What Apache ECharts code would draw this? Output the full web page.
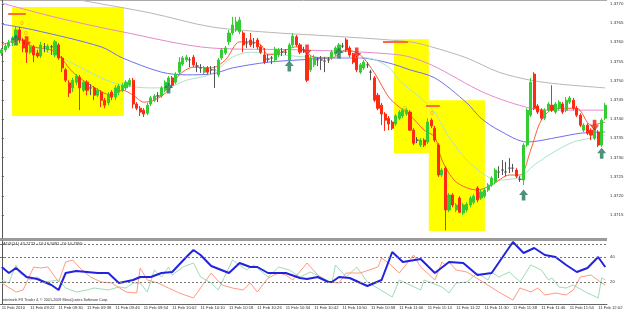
<!DOCTYPE html>
<html lang="en">
<head>
<meta charset="UTF-8">
<title>EURUSD,M1</title>
<script src="https://cdn.jsdelivr.net/npm/echarts@6/dist/echarts.min.js"></script>
<style>
  html, body { margin: 0; padding: 0; background: #fff; }
  #chart { width: 625px; height: 312px; }
</style>
</head>
<body>
<div id="chart"></div>
<script>
// 1-minute bars, 11 Feb 2010 09:14 .. 12:04
var opens = [1.37572,1.37580,1.37590,1.37598,1.37611,1.37632,1.37606,1.37590,1.37574,1.37588,
  1.37572,1.37564,1.37588,1.37580,1.37588,1.37567,1.37593,1.37559,1.37528,1.37494,
  1.37481,1.37496,1.37509,1.37475,1.37496,1.37481,1.37481,1.37462,1.37470,1.37449,
  1.37442,1.37470,1.37457,1.37470,1.37475,1.37481,1.37488,1.37501,1.37439,1.37428,
  1.37423,1.37415,1.37439,1.37449,1.37460,1.37460,1.37475,1.37491,1.37507,1.37496,
  1.37522,1.37543,1.37554,1.37554,1.37561,1.37538,1.37533,1.37522,1.37533,1.37528,
  1.37528,1.37515,1.37559,1.37572,1.37601,1.37624,1.37632,1.37627,1.37624,1.37598,
  1.37606,1.37598,1.37606,1.37588,1.37567,1.37556,1.37559,1.37554,1.37567,1.37574,
  1.37574,1.37554,1.37593,1.37614,1.37593,1.37580,1.37567,1.37528,1.37541,1.37554,
  1.37554,1.37551,1.37554,1.37559,1.37569,1.37580,1.37590,1.37606,1.37585,1.37567,
  1.37559,1.37522,1.37533,1.37541,1.37522,1.37507,1.37462,1.37436,1.37413,1.37402,
  1.37392,1.37387,1.37402,1.37408,1.37413,1.37418,1.37371,1.37345,1.37332,1.37345,
  1.37340,1.37397,1.37376,1.37332,1.37254,1.37272,1.37163,1.37202,1.37163,1.37194,
  1.37155,1.37163,1.37176,1.37183,1.37220,1.37194,1.37199,1.37215,1.37228,1.37236,
  1.37262,1.37267,1.37262,1.37272,1.37272,1.37267,1.37243,1.37241,1.37332,1.37410,
  1.37517,1.37434,1.37423,1.37402,1.37423,1.37436,1.37418,1.37428,1.37439,1.37423,
  1.37444,1.37449,1.37428,1.37410,1.37371,1.37384,1.37371,1.37350,1.37366,1.37332,
  1.37402];
var closes = [1.37580,1.37590,1.37598,1.37611,1.37632,1.37606,1.37585,1.37574,1.37588,1.37567,
  1.37564,1.37593,1.37588,1.37590,1.37588,1.37601,1.37559,1.37533,1.37501,1.37468,
  1.37501,1.37512,1.37481,1.37496,1.37475,1.37481,1.37462,1.37475,1.37449,1.37436,
  1.37465,1.37457,1.37481,1.37486,1.37488,1.37496,1.37501,1.37439,1.37428,1.37418,
  1.37413,1.37436,1.37455,1.37460,1.37460,1.37481,1.37496,1.37507,1.37488,1.37517,
  1.37548,1.37559,1.37561,1.37554,1.37541,1.37538,1.37533,1.37533,1.37522,1.37528,
  1.37528,1.37554,1.37580,1.37585,1.37624,1.37645,1.37653,1.37658,1.37593,1.37598,
  1.37593,1.37598,1.37588,1.37574,1.37548,1.37556,1.37559,1.37582,1.37580,1.37574,
  1.37574,1.37593,1.37616,1.37593,1.37574,1.37580,1.37501,1.37559,1.37561,1.37554,
  1.37554,1.37551,1.37554,1.37574,1.37585,1.37593,1.37590,1.37580,1.37567,1.37548,
  1.37528,1.37541,1.37548,1.37541,1.37522,1.37449,1.37428,1.37413,1.37397,1.37387,
  1.37376,1.37408,1.37418,1.37423,1.37423,1.37371,1.37337,1.37345,1.37345,1.37332,
  1.37392,1.37382,1.37345,1.37254,1.37267,1.37163,1.37202,1.37176,1.37176,1.37157,
  1.37176,1.37178,1.37194,1.37199,1.37189,1.37210,1.37215,1.37228,1.37246,1.37267,
  1.37262,1.37267,1.37262,1.37272,1.37272,1.37251,1.37243,1.37332,1.37423,1.37496,
  1.37428,1.37418,1.37402,1.37423,1.37439,1.37423,1.37439,1.37444,1.37418,1.37449,
  1.37455,1.37428,1.37410,1.37384,1.37384,1.37363,1.37358,1.37376,1.37332,1.37397,
  1.37436];
var lows = [1.37564,1.37574,1.37585,1.37590,1.37601,1.37598,1.37574,1.37546,1.37569,1.37548,
  1.37559,1.37559,1.37574,1.37574,1.37567,1.37561,1.37554,1.37522,1.37496,1.37457,
  1.37470,1.37488,1.37423,1.37470,1.37462,1.37462,1.37449,1.37457,1.37431,1.37428,
  1.37436,1.37449,1.37449,1.37462,1.37470,1.37475,1.37483,1.37428,1.37423,1.37408,
  1.37405,1.37410,1.37434,1.37444,1.37444,1.37455,1.37470,1.37486,1.37481,1.37491,
  1.37517,1.37538,1.37548,1.37535,1.37535,1.37522,1.37520,1.37517,1.37517,1.37517,
  1.37481,1.37509,1.37554,1.37567,1.37593,1.37619,1.37627,1.37621,1.37574,1.37585,
  1.37588,1.37585,1.37582,1.37569,1.37543,1.37548,1.37543,1.37548,1.37561,1.37564,
  1.37567,1.37548,1.37588,1.37588,1.37569,1.37572,1.37496,1.37522,1.37535,1.37538,
  1.37528,1.37522,1.37546,1.37554,1.37564,1.37574,1.37585,1.37574,1.37561,1.37543,
  1.37522,1.37517,1.37528,1.37533,1.37501,1.37444,1.37423,1.37384,1.37369,1.37371,
  1.37371,1.37382,1.37397,1.37402,1.37408,1.37369,1.37332,1.37337,1.37327,1.37327,
  1.37335,1.37376,1.37340,1.37249,1.37249,1.37110,1.37157,1.37170,1.37157,1.37155,
  1.37150,1.37157,1.37170,1.37178,1.37183,1.37189,1.37194,1.37210,1.37223,1.37230,
  1.37246,1.37254,1.37251,1.37259,1.37262,1.37246,1.37236,1.37228,1.37327,1.37405,
  1.37423,1.37413,1.37397,1.37397,1.37418,1.37418,1.37413,1.37423,1.37413,1.37418,
  1.37439,1.37423,1.37405,1.37379,1.37366,1.37358,1.37345,1.37345,1.37327,1.37327,
  1.37397];
var highs = [1.37585,1.37595,1.37606,1.37616,1.37640,1.37640,1.37611,1.37595,1.37593,1.37593,
  1.37580,1.37601,1.37598,1.37595,1.37593,1.37606,1.37598,1.37564,1.37533,1.37501,
  1.37507,1.37517,1.37515,1.37501,1.37501,1.37491,1.37486,1.37481,1.37475,1.37455,
  1.37470,1.37475,1.37488,1.37491,1.37494,1.37501,1.37507,1.37507,1.37444,1.37434,
  1.37428,1.37442,1.37460,1.37465,1.37470,1.37486,1.37501,1.37512,1.37512,1.37522,
  1.37561,1.37564,1.37567,1.37561,1.37567,1.37548,1.37543,1.37538,1.37538,1.37538,
  1.37538,1.37559,1.37585,1.37590,1.37632,1.37666,1.37666,1.37666,1.37629,1.37611,
  1.37624,1.37611,1.37611,1.37593,1.37585,1.37569,1.37564,1.37588,1.37585,1.37585,
  1.37582,1.37598,1.37624,1.37619,1.37598,1.37588,1.37572,1.37564,1.37567,1.37561,
  1.37564,1.37561,1.37561,1.37580,1.37590,1.37598,1.37598,1.37611,1.37590,1.37572,
  1.37564,1.37546,1.37554,1.37548,1.37528,1.37512,1.37468,1.37442,1.37418,1.37408,
  1.37397,1.37413,1.37423,1.37428,1.37428,1.37423,1.37376,1.37353,1.37350,1.37350,
  1.37402,1.37402,1.37382,1.37337,1.37272,1.37277,1.37207,1.37207,1.37181,1.37199,
  1.37181,1.37183,1.37199,1.37204,1.37225,1.37215,1.37220,1.37233,1.37251,1.37272,
  1.37277,1.37293,1.37288,1.37298,1.37283,1.37272,1.37251,1.37337,1.37428,1.37507,
  1.37522,1.37439,1.37428,1.37428,1.37444,1.37488,1.37444,1.37449,1.37444,1.37457,
  1.37460,1.37455,1.37434,1.37415,1.37389,1.37389,1.37376,1.37382,1.37371,1.37402,
  1.37442];

var tickLabels = ['11 Feb 2010','11 Feb 09:22','11 Feb 09:30','11 Feb 09:38','11 Feb 09:46',
  '11 Feb 09:54','11 Feb 10:02','11 Feb 10:10','11 Feb 10:18','11 Feb 10:26','11 Feb 10:34',
  '11 Feb 10:42','11 Feb 10:50','11 Feb 10:58','11 Feb 11:06','11 Feb 11:14','11 Feb 11:22',
  '11 Feb 11:30','11 Feb 11:38','11 Feb 11:46','11 Feb 11:54','11 Feb 12:02'];
var priceTicks = [1.3715,1.3720,1.3725,1.3730,1.3735,1.3740,1.3745,1.3750,1.3755,1.3760,1.3765,1.3770];
var adxTicks = [20, 40];
var adxLevels = [20, 40, 50];

// moving averages at a few bars: [bar, price]
var maGrey = [[0,1.37749],[22,1.37710],[42,1.37676],[59,1.37640],[78,1.37624],[93,1.37616],[115,1.37601],
  [121,1.37588],[131,1.37559],[140,1.37522],[149,1.37501],[157,1.37491],[170,1.37481]];
var maPink = [[0,1.37702],[16,1.37663],[34,1.37627],[59,1.37585],[84,1.37580],[112,1.37567],[121,1.37541],
  [136,1.37468],[149,1.37428],[157,1.37423],[170,1.37423]];
var maBlue = [[0,1.37647],[9,1.37632],[28,1.37588],[34,1.37559],[45,1.37522],[52,1.37515],[59,1.37517],
  [65,1.37533],[75,1.37548],[84,1.37554],[93,1.37559],[101,1.37559],[109,1.37546],[115,1.37528],
  [122,1.37507],[131,1.37442],[135,1.37402],[140,1.37371],[148,1.37340],[157,1.37353],[163,1.37363],[170,1.37366]];
var maMint = [[0,1.37580],[5,1.37598],[9,1.37588],[18,1.37554],[28,1.37507],[34,1.37488],[42,1.37481],
  [47,1.37483],[52,1.37501],[59,1.37517],[65,1.37561],[70,1.37574],[79,1.37567],[87,1.37561],[93,1.37561],
  [103,1.37559],[109,1.37535],[112,1.37501],[121,1.37428],[126,1.37353],[131,1.37293],[137,1.37249],
  [140,1.37241],[146,1.37249],[150,1.37280],[155,1.37311],[161,1.37340],[166,1.37350],[170,1.37358]];
var maRed = [[0,1.37593],[5,1.37606],[9,1.37588],[14,1.37580],[16,1.37567],[20,1.37522],[25,1.37488],
  [31,1.37462],[34,1.37475],[37,1.37462],[40,1.37444],[43,1.37449],[47,1.37475],[50,1.37515],[54,1.37535],
  [59,1.37533],[63,1.37554],[67,1.37601],[70,1.37601],[73,1.37593],[75,1.37567],[78,1.37572],[83,1.37588],
  [85,1.37580],[88,1.37561],[93,1.37559],[97,1.37580],[101,1.37567],[105,1.37520],[109,1.37457],
  [112,1.37431],[115,1.37410],[119,1.37371],[122,1.37353],[124,1.37293],[128,1.37236],[134,1.37215],
  [138,1.37228],[143,1.37254],[146,1.37254],[149,1.37319],[152,1.37397],[156,1.37428],[162,1.37428],
  [166,1.37384],[170,1.37392]];

// ADX(14): [bar, value]
var adxMain = [[0,32.0],[2,27.2],[4,31.2],[7,24.0],[10,22.4],[14,17.6],[16,13.6],[18,27.2],[21,28.8],
  [24,28.0],[27,27.2],[30,27.2],[33,19.2],[37,21.6],[39,24.0],[42,24.0],[45,27.2],[48,28.0],[52,40.0],
  [54,45.6],[56,41.6],[59,32.8],[64,27.2],[67,35.2],[70,32.0],[72,32.0],[75,27.2],[80,27.2],[84,23.2],
  [86,22.4],[89,24.0],[92,20.0],[93,20.0],[95,24.0],[98,23.2],[103,16.8],[107,21.6],[110,44.0],[113,36.0],
  [118,38.4],[122,27.2],[126,36.0],[130,35.2],[134,25.6],[138,27.2],[144,52.0],[147,43.2],[150,47.2],
  [153,41.6],[156,40.0],[159,33.6],[162,28.0],[165,31.2],[168,40.0],[170,32.0]];
var plusDI = [[0,21.6],[2,19.2],[4,33.6],[5,27.2],[8,21.6],[10,24.0],[12,20.0],[16,21.6],[18,15.2],
  [21,12.0],[24,13.6],[26,15.2],[30,13.6],[33,16.0],[35,15.2],[37,19.2],[39,19.2],[41,12.0],[43,29.6],
  [45,24.0],[47,32.0],[48,25.6],[51,32.0],[54,35.2],[56,24.0],[59,19.2],[61,13.6],[65,37.6],[69,29.6],
  [71,33.6],[75,24.0],[78,32.0],[81,29.6],[84,24.0],[87,28.0],[91,22.4],[93,19.2],[94,33.6],[97,24.0],
  [100,32.0],[103,20.0],[110,8.0],[112,21.6],[115,17.6],[118,13.6],[119,21.6],[124,16.0],[126,11.2],
  [128,19.2],[131,20.0],[134,27.2],[137,21.6],[138,28.0],[140,24.0],[143,28.0],[146,20.0],[149,33.6],
  [152,29.6],[154,21.6],[155,23.2],[157,16.0],[159,15.2],[161,17.6],[165,11.2],[168,7.2],[169,23.2],[170,21.6]];
var minusDI = [[0,19.2],[4,12.0],[6,13.6],[9,32.0],[11,31.2],[13,32.0],[16,20.0],[18,36.0],[20,37.6],
  [22,31.2],[25,24.0],[28,20.0],[31,19.2],[35,12.0],[38,11.2],[39,31.2],[41,21.6],[44,19.2],[47,15.2],
  [50,11.2],[54,7.2],[56,15.2],[59,27.2],[62,17.6],[65,15.2],[68,13.6],[70,19.2],[72,12.0],[75,23.2],
  [78,27.2],[80,25.6],[82,21.6],[86,35.2],[89,25.6],[92,20.0],[95,19.2],[97,27.2],[101,27.2],[106,32.0],
  [107,39.2],[109,35.2],[112,27.2],[116,41.6],[118,32.0],[122,21.6],[124,36.0],[125,33.6],[126,36.0],
  [128,29.6],[131,28.0],[136,19.2],[140,12.0],[144,5.6],[146,15.2],[149,12.0],[151,15.2],[153,9.6],
  [156,11.2],[159,9.6],[161,13.6],[163,24.0],[166,25.6],[169,19.2],[170,17.6]];

// drawn objects: [barFrom, barTo, priceTop, priceBottom]
var zones = [[2.9,34.4,1.37692,1.37408],[110.5,120.3,1.37608,1.37311],[120.3,136.1,1.37449,1.37108]];
// [barFrom, barTo, price]
var levels = [[1.8,6.8,1.37674],[107.4,114.4,1.37601],[119.5,123.4,1.37434]];
var fiboZero = [[5.7,1.37650],[6.8,1.37624],[113.6,1.37428],[121.2,1.37415]];
var buyArrows = [[4,1.37606],[47,1.37481],[81,1.37538],[95,1.37572],[147,1.37202],[169,1.37311]];
var sellArrows = [[7,1.37601],[86,1.37580],[100,1.37572],[167,1.37384]];

var times = [];
for (var i = 0; i < opens.length; i++) {
  var m = 9 * 60 + 14 + i;
  times.push(('0' + Math.floor(m / 60)).slice(-2) + ':' + ('0' + (m % 60)).slice(-2));
}
var candles = opens.map(function (o, i) { return [o, closes[i], lows[i], highs[i]]; });

var font = '"Liberation Sans Narrow", "Liberation Sans", sans-serif';
var upPath = 'path://M5,0L10,6L7,6L7,12L3,12L3,6L0,6Z';
var downPath = 'path://M3,0L7,0L7,6L10,6L5,12L0,6L3,6Z';

function maLine(name, data, color) {
  return {
    name: name, type: 'line', xAxisIndex: 1, yAxisIndex: 0, data: data,
    symbol: 'none', smooth: 0.3, z: 3, silent: true,
    lineStyle: {color: color, width: 1}
  };
}
function adxLine(name, data, color, width) {
  return {
    name: name, type: 'line', xAxisIndex: 3, yAxisIndex: 1, data: data,
    symbol: 'none', z: 3, silent: true,
    lineStyle: {color: color, width: width}
  };
}

var chart = echarts.init(document.getElementById('chart'));
var option = {
  animation: false,
  backgroundColor: '#ffffff',
  grid: [
    {left: 0, right: 18, top: 0, height: 238, outerBoundsMode: 'none'},
    {left: 0, right: 18, top: 241, height: 63, outerBoundsMode: 'none'}
  ],
  xAxis: [
    {type: 'category', gridIndex: 0, data: times, show: false},
    {type: 'value', gridIndex: 0, min: -0.5, max: times.length - 0.5, show: false},
    {
      type: 'category', gridIndex: 1, data: times,
      axisLine: {lineStyle: {color: '#666', width: 1}},
      axisTick: {
        alignWithLabel: true, length: 3, lineStyle: {color: '#444'},
        interval: function (idx) { return idx % 8 === 0; }
      },
      axisLabel: {
        align: 'left', fontSize: 4.2, color: '#333', margin: 2, fontFamily: font, hideOverlap: false,
        interval: function (idx) { return idx % 8 === 0; },
        formatter: function (v, idx) { return tickLabels[idx / 8] || ''; }
      }
    },
    {type: 'value', gridIndex: 1, min: -0.5, max: times.length - 0.5, show: false}
  ],
  yAxis: [
    {
      type: 'value', gridIndex: 0, position: 'right', min: 1.37090, max: 1.37710,
      splitLine: {show: false},
      axisLine: {show: true, lineStyle: {color: '#555'}},
      axisTick: {show: true, customValues: priceTicks, length: 2, lineStyle: {color: '#555'}},
      axisLabel: {
        customValues: priceTicks, fontSize: 4.4, color: '#333', margin: 3, fontFamily: font,
        formatter: function (v) { return v.toFixed(4); }
      }
    },
    {
      type: 'value', gridIndex: 1, position: 'right', min: 2.4, max: 52.8,
      splitLine: {show: false},
      axisLine: {show: true, lineStyle: {color: '#555'}},
      axisTick: {show: true, customValues: adxTicks, length: 2, lineStyle: {color: '#555'}},
      axisLabel: {customValues: adxTicks, fontSize: 4.4, color: '#333', margin: 3, fontFamily: font}
    }
  ],
  series: [
    {
      name: 'objects', type: 'line', xAxisIndex: 1, yAxisIndex: 0, data: [], z: 1, silent: true,
      markArea: {
        silent: true,
        itemStyle: {color: '#ffff00', opacity: 1},
        data: zones.map(function (b) { return [{coord: [b[0], b[2]]}, {coord: [b[1], b[3]]}]; })
      },
      markLine: {
        silent: true, symbol: 'none', label: {show: false},
        lineStyle: {color: '#ff6a3a', width: 2, type: 'solid'},
        data: levels.map(function (l) { return [{coord: [l[0], l[2]]}, {coord: [l[1], l[2]]}]; })
      }
    },
    maLine('MA grey', maGrey, '#bdb5ae'),
    maLine('MA pink', maPink, '#e58acb'),
    maLine('MA blue', maBlue, '#6f6ff0'),
    maLine('MA mint', maMint, '#aee3c6'),
    {
      name: 'EURUSD', type: 'candlestick', xAxisIndex: 0, yAxisIndex: 0, data: candles,
      barWidth: 2.6, z: 4, silent: true,
      itemStyle: {
        color: '#33cc33', color0: '#ff2a10',
        borderColor: '#33cc33', borderColor0: '#ff2a10', borderColorDoji: '#555555', borderWidth: 1
      }
    },
    maLine('MA red', maRed, '#ff5a3c'),
    {
      name: 'zero', type: 'scatter', xAxisIndex: 1, yAxisIndex: 0, data: fiboZero,
      symbolSize: 0, z: 5, silent: true,
      label: {show: true, formatter: '0', color: '#ff7a30', fontSize: 6, fontFamily: font, position: 'inside'}
    },
    {
      name: 'buy', type: 'scatter', xAxisIndex: 0, yAxisIndex: 0, data: buyArrows,
      symbol: upPath, symbolSize: [9, 11], z: 6, silent: true,
      itemStyle: {color: '#22775a'}
    },
    {
      name: 'sell', type: 'scatter', xAxisIndex: 0, yAxisIndex: 0, data: sellArrows,
      symbol: downPath, symbolSize: [9, 11], z: 6, silent: true,
      itemStyle: {color: '#ee1a10'}
    },
    adxLine('+DI', plusDI, '#9fdcb6', 1),
    adxLine('-DI', minusDI, '#ff9a80', 1),
    Object.assign(adxLine('ADX', adxMain, '#2222e0', 2), {
      markLine: {
        silent: true, symbol: 'none', label: {show: false},
        lineStyle: {color: '#777', width: 1, type: [2, 2]},
        data: adxLevels.map(function (v) { return {yAxis: v}; })
      }
    })
  ],
  graphic: [
    {type: 'rect', left: 0, top: 238, shape: {width: 607, height: 3}, style: {fill: '#9a9a9a'}, silent: true},
    {type: 'line', shape: {x1: 0, y1: 0.5, x2: 607, y2: 0.5}, style: {stroke: '#aaaaaa', lineWidth: 1}, silent: true},
    {
      type: 'text', left: 3, top: 242, silent: true,
      style: {text: 'ADX(14) 43.2723 +DI:16.9491 -DI:10.7855', fill: '#333', font: '4.2px ' + font}
    },
    {
      type: 'text', left: 2, top: 298, silent: true,
      style: {text: 'Interbank FX Trader 4, \u00a9 2001-2009 MetaQuotes Software Corp.', fill: '#333', font: '3.7px ' + font}
    }
  ]
};
chart.setOption(option);
</script>
</body>
</html>
